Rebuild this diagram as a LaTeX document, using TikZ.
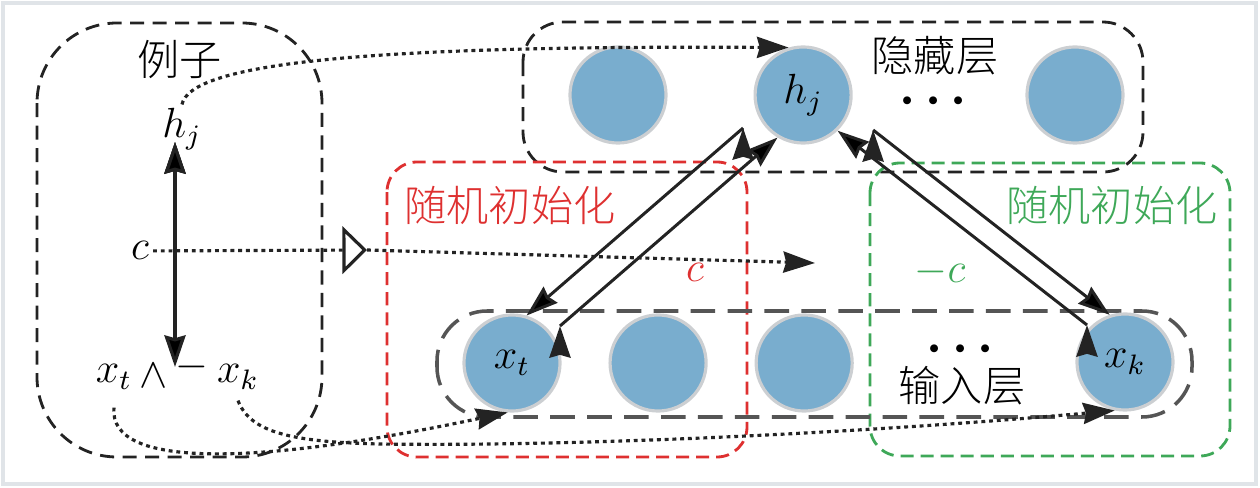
\documentclass[tikz,border=0pt]{standalone}
\usepackage{amsmath}
\usepackage{amssymb}
\usepackage{fontspec}
\usepackage{tikz}
\usetikzlibrary{arrows.meta,positioning}

\newfontfamily\cjk{Noto Sans CJK SC Light}

\definecolor{unitblue}{RGB}{121,173,206}
\definecolor{unitrim}{RGB}{204,207,210}
\definecolor{inkgray}{RGB}{35,35,35}
\definecolor{layergray}{RGB}{85,85,85}
\definecolor{initred}{RGB}{222,48,48}
\definecolor{initgreen}{RGB}{62,168,88}
\definecolor{framegray}{RGB}{224,228,232}

\begin{document}
\begin{tikzpicture}[x=0.01cm,y=-0.01cm,node distance=1.46cm,
        unit/.style={circle,fill=unitblue,draw=unitrim,line width=0.9pt,minimum size=0.96cm,inner sep=0pt,font=\large},
        word/.style={inner sep=1pt,font=\large},
        group/.style={draw=inkgray,line width=0.8pt,dash pattern=on 4pt off 2.4pt},
        link/.style={-{Stealth[length=9pt,width=6pt,inset=0.8pt]},draw=inkgray,line width=0.85pt},
        hint/.style={-{Stealth[length=9pt,width=6pt,inset=0.8pt]},draw=inkgray,line width=0.9pt,dash pattern=on 1.1pt off 1.1pt}]
        \useasboundingbox (0,0) rectangle (1260,488);
        \draw[framegray,line width=1.2pt] (3,3) rectangle (1256,484);

        % groups
        \draw[group,rounded corners=0.8cm] (37,23) rectangle (322,457);
        \draw[group,rounded corners=0.4cm] (523,22) rectangle (1143,172);
        \draw[group,draw=initred,rounded corners=0.3cm,dash pattern=on 3.7pt off 2pt] (387,162) rectangle (747,457);
        \draw[group,draw=initgreen,rounded corners=0.3cm,dash pattern=on 3.7pt off 2pt] (870,163) rectangle (1230,456);
        \draw[group,draw=layergray,line width=1pt,rounded corners=0.5cm,dash pattern=on 7pt off 3.5pt] (437,311) rectangle (1192,417);

        % hidden layer
        \node[unit] (h1) at (618,95) {};
        \node[unit] (hj) [right of = h1, node distance=1.85cm] {$h_j$};
        \node[unit] (hn) at (1075,95) {};
        \node[word, inner sep=0pt, font=\Large] (hdots) at (938,102) {$\boldsymbol{\cdots}$};
        \node[word, inner sep=0pt] (hname) at (935,56) {\cjk 隐藏层};

        % input layer
        \node[unit] (xt) at (512,363) {$x_t$};
        \node[unit] (x2) [right of = xt] {};
        \node[unit] (x3) [right of = x2] {};
        \node[unit] (xk) at (1125,362) {$x_k$};
        \node[word, inner sep=0pt, font=\Large] (xdots) at (965,350) {$\boldsymbol{\cdots}$};
        \node[word] (xname) at (962,386) {\cjk 输入层};

        % example
        \node[word] (example) at (180,60) {\cjk 例子};
        \node[word, anchor=base] (hjl) at (182,138) {$h_j$};
        \node[word, anchor=base] (cl) at (140,260) {$c$};
        \node[word, anchor=base] (xtl) at (114,383) {$x_t$};
        \node[word] (andl) at (154,376) {$\wedge$};
        \node[word] (negl) at (192,367) {$-$};
        \node[word, anchor=base] (xkl) at (238,383) {$x_k$};
        \coordinate (vtop) at (175,142);
        \coordinate (vbot) at (175,367);
        \coordinate (tri) at (367,250);
        \coordinate (cend) at (815,263);

        % random init
        \node[word, text=initred] (rname) at (510,205) {\cjk 随机初始化};
        \node[word, text=initred, anchor=base] (rc) at (695,282) {$c$};
        \node[word, text=initgreen] (gname) at (1112,205) {\cjk 随机初始化};
        \node[word, text=initgreen, anchor=base] (gc) at (940,283) {$-c$};

        \path[link] ([shift={(-60,33)}]hj.center) edge (xt.73);
        \path[link] ([shift={(48,-37)}]xt.center) edge (hj.239);
        \path[link] ([shift={(-38,-37)}]xk.center) edge (hj.314);
        \path[link] ([shift={(70,35)}]hj.center) edge (xk.108);
        \path[link,{Stealth[length=9pt,width=6pt,inset=0.8pt]}-{Stealth[length=9pt,width=6pt,inset=0.8pt]},line width=0.9pt] (vtop) edge (vbot);

        \draw[hint,-{Triangle[open,length=7pt,width=13.5pt,line width=0.9pt]}] (cl.east) -- (tri);
        \draw[hint] (tri) -- (cend);
        \draw[hint] (hjl.north) .. controls (190,65) and (350,45) .. (hj.107);
        \draw[hint] ([yshift=-4pt]xtl.south) .. controls (108,470) and (260,465) .. (xt.265);
        \draw[hint] ([yshift=-2pt]xkl.south) .. controls (250,432) and (290,442) .. (380,444)
                .. controls (600,447) and (900,430) .. (xk.258);
      \end{tikzpicture}
\end{document}
